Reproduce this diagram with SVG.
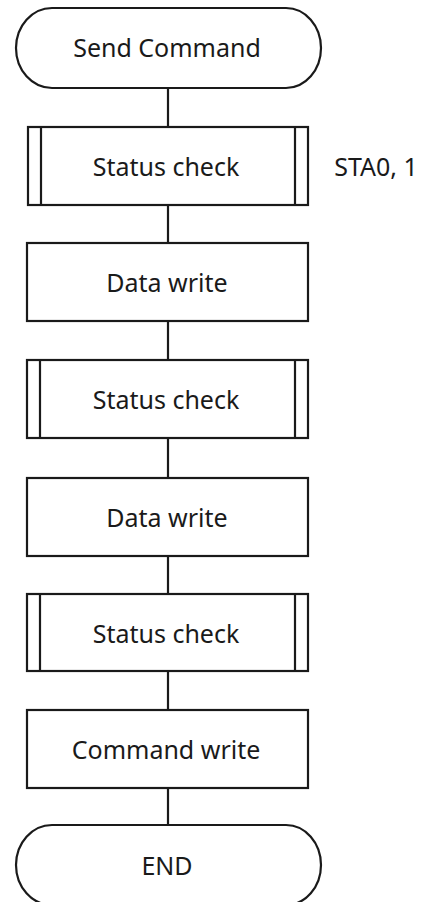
<svg xmlns="http://www.w3.org/2000/svg" width="428" height="902" viewBox="0 0 428 902">
<style>
.s{fill:#fff;stroke:#1a1a1a;stroke-width:2.2}
.l{stroke:#1a1a1a;stroke-width:2.2;fill:none}
.t{font-family:"Noto Sans","Open Sans","DejaVu Sans",sans-serif;font-size:25px;fill:#1a1a1a;text-anchor:middle}
</style>
<rect width="428" height="902" fill="#fff"/>
<g id="connectors">
<path class="l" d="M168,88V127M168,205V243M168,321V360M168,438V478M168,556V594M168,671V710M168,788V825"/>
</g>
<g id="start">
<path class="s" d="M52,8H286A35,40 0 0 1 286,88H52A36,40 0 0 1 52,8Z"/>
<text class="t" x="167" y="57">Send Command</text>
</g>
<g id="status1">
<rect class="s" x="28" y="127" width="280" height="78"/>
<path class="l" d="M41,127V205M295,127V205"/>
<text class="t" x="166" y="176">Status check</text>
<text class="t" x="376" y="176">STA0, 1</text>
</g>
<g id="data1">
<rect class="s" x="27" y="243" width="281" height="78"/>
<text class="t" x="167" y="292">Data write</text>
</g>
<g id="status2">
<rect class="s" x="27" y="360" width="281" height="78"/>
<path class="l" d="M40,360V438M295,360V438"/>
<text class="t" x="166" y="409">Status check</text>
</g>
<g id="data2">
<rect class="s" x="27" y="478" width="281" height="78"/>
<text class="t" x="167" y="527">Data write</text>
</g>
<g id="status3">
<rect class="s" x="27" y="594" width="281" height="77"/>
<path class="l" d="M40,594V671M295,594V671"/>
<text class="t" x="166" y="643">Status check</text>
</g>
<g id="cmdwrite">
<rect class="s" x="27" y="710" width="281" height="78"/>
<text class="t" x="166" y="759">Command write</text>
</g>
<g id="end">
<path class="s" d="M52,825H286A35,40 0 0 1 286,905H52A36,40 0 0 1 52,825Z"/>
<text class="t" x="167" y="875">END</text>
</g>
</svg>
